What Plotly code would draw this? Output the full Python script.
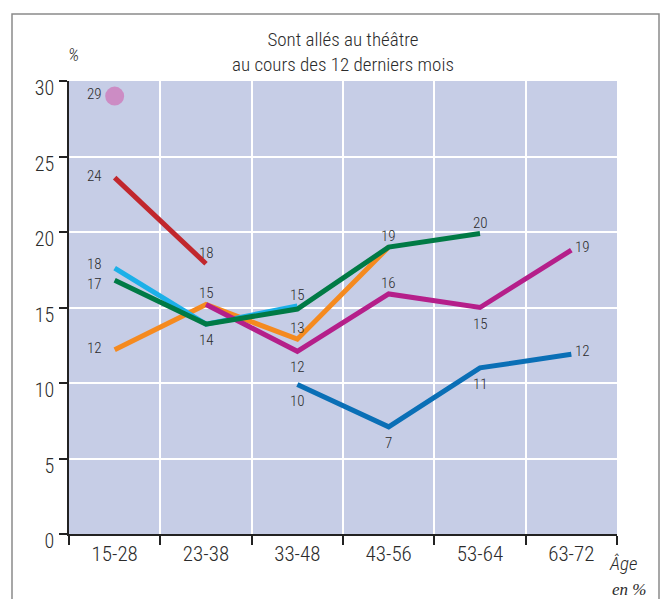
import plotly.graph_objects as go

ages = ["15-28", "23-38", "33-48", "43-56", "53-64", "63-72"]
y_ticks = [0, 5, 10, 15, 20, 25, 30]

red_vals = [23.6, 17.9, None, None, None, None]
red_labels = ["24", "18", None, None, None, None]

cyan_vals = [17.6, 13.9, 15.1, None, None, None]
cyan_labels = ["18", None, "15", None, None, None]

green_vals = [16.8, 13.9, 14.9, 19.0, 19.9, None]
green_labels = ["17", "14", None, "19", "20", None]

orange_vals = [12.2, 15.2, 12.9, 19.0, None, None]
orange_labels = ["12", "15", "13", None, None, None]

magenta_vals = [None, 15.2, 12.1, 15.9, 15.0, 18.8]
magenta_labels = [None, None, "12", "16", "15", "19"]

blue_vals = [None, None, 9.9, 7.1, 11.0, 11.9]
blue_labels = [None, None, "10", "7", "11", "12"]

pink_vals = [29.0, None, None, None, None, None]
pink_labels = ["29", None, None, None, None, None]

# label placement (style): l=left, la=left-up, lb=left-down, a=above, b=below, r=right
red_pos = ["l", "a", None, None, None, None]
cyan_pos = ["la", None, "a", None, None, None]
green_pos = ["lb", "b", None, "a", "a", None]
orange_pos = ["l", "a", "a", None, None, None]
magenta_pos = [None, None, "b", "a", "b", "r"]
blue_pos = [None, None, "b", "b", "b", "r"]
pink_pos = ["l", None, None, None, None, None]

NARROW = "Roboto Condensed, Liberation Sans Narrow, sans-serif"
TXT = "#2b2b2b"
W = 350

series = [
    (orange_vals, orange_labels, orange_pos, "#f58a1f"),
    (cyan_vals, cyan_labels, cyan_pos, "#1cb0e8"),
    (red_vals, red_labels, red_pos, "#c1272d"),
    (magenta_vals, magenta_labels, magenta_pos, "#b51f8a"),
    (blue_vals, blue_labels, blue_pos, "#0a6fb6"),
    (green_vals, green_labels, green_pos, "#007a45"),
]

fig = go.Figure()
annotations = []
shift = {"l": (-20, 2), "la": (-20, 4), "lb": (-20, -4),
         "a": (0, 11), "b": (0, -16), "r": (11, 3)}

for vals, labels, pos, col in series:
    xs = [a for a, v in zip(ages, vals) if v is not None]
    ys = [v for v in vals if v is not None]
    fig.add_trace(go.Scatter(x=xs, y=ys, mode="lines",
                             line=dict(color=col, width=5),
                             hoverinfo="skip", showlegend=False))

fig.add_trace(go.Scatter(x=[a for a, v in zip(ages, pink_vals) if v is not None],
                         y=[v for v in pink_vals if v is not None],
                         mode="markers",
                         marker=dict(color="#cc8cc4", size=19),
                         hoverinfo="skip", showlegend=False))

for vals, labels, pos, col in series + [(pink_vals, pink_labels, pink_pos, None)]:
    for a, v, t, p in zip(ages, vals, labels, pos):
        if t is None or v is None:
            continue
        dx, dy = shift[p]
        annotations.append(dict(x=a, y=v, xref="x", yref="y", text=t,
                                showarrow=False, xshift=dx, yshift=dy,
                                font=dict(family=NARROW, size=15, color=TXT, weight=W)))

annotations += [
    dict(text="Sont allés au théâtre<br>au cours des 12 derniers mois",
         x=0.5, y=1.0, xref="paper", yref="paper", xanchor="center",
         yanchor="bottom", yshift=3, showarrow=False,
         font=dict(family=NARROW, size=19, color=TXT, weight=W)),
    dict(text="%", x=0, y=1, xref="paper", yref="paper",
         xanchor="left", yanchor="bottom", xshift=-3, yshift=14,
         showarrow=False, font=dict(family=NARROW, size=18, color=TXT, weight=W, style="italic")),
    dict(text="Âge", x=1, y=0, xref="paper", yref="paper",
         xanchor="left", yanchor="middle", xshift=-10, yshift=-29,
         showarrow=False, font=dict(family=NARROW, size=19, color=TXT, weight=W, style="italic")),
    dict(text="en %", x=1, y=0, xref="paper", yref="paper",
         xanchor="left", yanchor="middle", xshift=-7, yshift=-55,
         showarrow=False, font=dict(family="Liberation Serif, serif", size=17, color=TXT, style="italic")),
]

fig.update_layout(
    width=667, height=599,
    margin=dict(l=69, r=50, t=81, b=65),
    paper_bgcolor="white",
    plot_bgcolor="#c6cde6",
    annotations=annotations,
    shapes=[dict(type="rect", xref="paper", yref="paper",
                 x0=(12 - 69) / 548, x1=(659 - 69) / 548,
                 y0=-0.3, y1=(534 - 14) / 453,
                 line=dict(color="#8a8a8a", width=1.5), layer="below")],
)

fig.update_xaxes(
    type="category", categoryorder="array", categoryarray=ages,
    tickson="boundaries", showgrid=True, gridcolor="white", gridwidth=1.5,
    showline=True, linecolor="#222222", linewidth=1.5,
    ticks="outside", ticklen=9, tickcolor="#222222", tickwidth=1.5,
    tickfont=dict(family=NARROW, size=21, color=TXT, weight=W),
    range=[-0.5, 5.5], fixedrange=True,
)
fig.update_yaxes(
    range=[0, 30], tickvals=y_ticks, ticktext=[str(v) for v in y_ticks],
    showgrid=True, gridcolor="white", gridwidth=1.5, zeroline=False,
    showline=True, linecolor="#222222", linewidth=1.5,
    ticks="outside", ticklen=8, tickcolor="#222222", tickwidth=1.5,
    ticklabelshift=7, ticklabelstandoff=1,
    tickfont=dict(family=NARROW, size=20, color=TXT, weight=W),
)

fig.write_html("out.html", config={"displayModeBar": False},
               post_script="document.body.style.margin='0';")
